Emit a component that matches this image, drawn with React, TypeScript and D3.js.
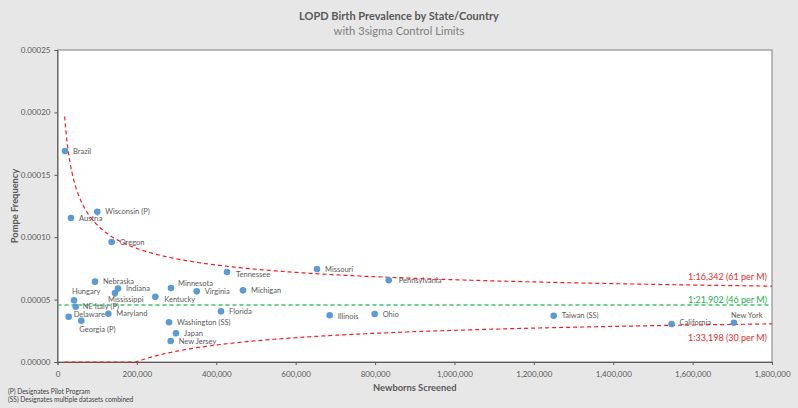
import React, { useRef, useEffect } from "react";
import * as d3 from "d3";

const names = [
  "Brazil", "Austria", "Wisconsin (P)", "Oregon", "Tennessee", "Missouri", "Pennsylvania",
  "Nebraska", "Indiana", "Mississippi", "Minnesota", "Virginia", "Michigan", "Kentucky",
  "Hungary", "NE Italy (P)", "Delaware", "Georgia (P)", "Maryland", "Florida",
  "Washington (SS)", "Japan", "New Jersey", "Illinois", "Ohio", "Taiwan (SS)",
  "California", "New York",
];
const screened = [
  18900, 34000, 100300, 136500, 427000, 653700, 834400,
  94500, 152400, 144800, 285900, 350700, 467300, 246400,
  41600, 45800, 28200, 60000, 128000, 411900,
  280900, 298500, 285100, 685700, 799000, 1250000,
  1547000, 1704000,
];
const frequency = [
  0.000169, 0.0001154, 0.0001204, 0.0000962, 0.0000721, 0.0000745, 0.0000655,
  0.0000644, 0.0000588, 0.0000553, 0.0000593, 0.0000566, 0.0000574, 0.0000523,
  0.0000494, 0.0000443, 0.0000363, 0.0000331, 0.0000387, 0.0000406,
  0.0000318, 0.000023, 0.0000168, 0.0000374, 0.0000385, 0.0000371,
  0.0000305, 0.0000315,
];
const meanRatio = 21902; // 1:21,902
const limitLabels = ["1:16,342 (61 per M)", "1:21,902 (46 per M)", "1:33,198 (30 per M)"];
const xTicks = [0, 200000, 400000, 600000, 800000, 1000000, 1200000, 1400000, 1600000, 1800000];
const yTicks = [0, 0.00005, 0.0001, 0.00015, 0.0002, 0.00025];
const footnotes = ["(P) Designates Pilot Program", "(SS) Designates multiple datasets combined"];

// label nudges (px) where the label is not simply to the right of the dot
const labelOffset: Record<string, [number, number]> = {
  Tennessee: [9, 2],
  Pennsylvania: [10, 0],
  Mississippi: [-7, 6],
  Minnesota: [7, -5],
  Kentucky: [9, 3],
  Hungary: [-2, -9],
  "NE Italy (P)": [7, 0],
  Delaware: [5, -2],
  "Georgia (P)": [-2, 9],
  Illinois: [8, 1],
  California: [8, -2],
  "New York": [-3, -7],
};

const W = 798;
const H = 408;
const FONT = "Lato, 'Open Sans', sans-serif";

const App: React.FC = () => {
  const svgRef = useRef<SVGSVGElement>(null);

  useEffect(() => {
    document.body.style.margin = "0";
    if (!svgRef.current) return;
    const svg = d3.select(svgRef.current);
    svg.selectAll("*").remove();

    const left = 57.5, right = 772, top = 50, bottom = 362;
    const x = d3.scaleLinear().domain([0, 1800000]).range([left, right]);
    const y = d3.scaleLinear().domain([0, 0.00025]).range([bottom, top]);

    svg.append("rect").attr("width", W).attr("height", H).attr("fill", "#e7e7e7");
    svg.append("rect")
      .attr("x", left).attr("y", top)
      .attr("width", right - left).attr("height", bottom - top)
      .attr("fill", "#fff").attr("stroke", "#7f7f7f").attr("stroke-width", 1);

    // title
    svg.append("text")
      .attr("x", 399).attr("y", 19.5).attr("text-anchor", "middle")
      .attr("font-family", FONT).attr("font-weight", "bold").attr("font-size", 11)
      .attr("fill", "#595959").text("LOPD Birth Prevalence by State/Country");
    svg.append("text")
      .attr("x", 399).attr("y", 35).attr("text-anchor", "middle")
      .attr("font-family", FONT).attr("font-size", 11.2)
      .attr("fill", "#7f7f7f").text("with 3sigma Control Limits");

    // axes
    const xAxis = svg.append("g")
      .attr("transform", `translate(0,${bottom})`)
      .call(d3.axisBottom(x).tickValues(xTicks).tickFormat(d3.format(",") as any).tickSize(3).tickPadding(6));
    const yAxis = svg.append("g")
      .attr("transform", `translate(${left},0)`)
      .call(d3.axisLeft(y).tickValues(yTicks).tickFormat(d3.format(".5f") as any).tickSize(3).tickPadding(4));
    [xAxis, yAxis].forEach((g) => {
      g.select(".domain").attr("stroke", "#595959");
      g.selectAll(".tick line").attr("stroke", "#595959");
      g.selectAll(".tick text")
        .attr("font-family", FONT).attr("font-size", 8).attr("fill", "#595959");
    });

    svg.append("text")
      .attr("x", (left + right) / 2).attr("y", 391).attr("text-anchor", "middle")
      .attr("font-family", FONT).attr("font-weight", "bold").attr("font-size", 9.3)
      .attr("fill", "#595959").text("Newborns Screened");
    svg.append("text")
      .attr("transform", `translate(18,${(top + bottom) / 2}) rotate(-90)`)
      .attr("text-anchor", "middle")
      .attr("font-family", FONT).attr("font-weight", "bold").attr("font-size", 9.3)
      .attr("fill", "#595959").text("Pompe Frequency");

    footnotes.forEach((t, i) => {
      svg.append("text")
        .attr("x", 8).attr("y", 393.5 + i * 8.5)
        .attr("font-family", FONT).attr("font-size", 6.6)
        .attr("fill", "#404040").text(t);
    });

    // mean and 3-sigma limits, p +/- 3*sqrt(p(1-p)/n)
    const p = 1 / meanRatio;
    const sigma = (n: number) => Math.sqrt((p * (1 - p)) / n);
    const nSamples = d3.range(18000, 1800001, 2000);
    const line = d3.line<number>().x((n) => x(n));

    const plot = svg.append("g");
    plot.append("path")
      .attr("d", line.y((n) => y(p + 3 * sigma(n)))(nSamples))
      .attr("fill", "none").attr("stroke", "#ff1a1a").attr("stroke-width", 1.2)
      .attr("stroke-dasharray", "4,3");
    plot.append("path")
      .attr("d", line.y((n) => y(Math.max(0, p - 3 * sigma(n))))(nSamples))
      .attr("fill", "none").attr("stroke", "#ff1a1a").attr("stroke-width", 1.2)
      .attr("stroke-dasharray", "4,3");
    plot.append("line")
      .attr("x1", left).attr("x2", right).attr("y1", y(p)).attr("y2", y(p))
      .attr("stroke", "#3cc46a").attr("stroke-width", 1.6).attr("stroke-dasharray", "4,3");

    const limitY = [277, 300, 338];
    const limitColor = ["#ee2a2a", "#22b04c", "#ee2a2a"];
    limitLabels.forEach((t, i) => {
      plot.append("text")
        .attr("x", 767).attr("y", limitY[i]).attr("dy", "0.35em").attr("text-anchor", "end")
        .attr("font-family", FONT).attr("font-size", 9)
        .attr("fill", limitColor[i]).text(t);
    });

    const data = names.map((name, i) => ({ name, n: screened[i], f: frequency[i] }));
    const pts = plot.append("g").selectAll("g").data(data).join("g")
      .attr("transform", (d) => `translate(${x(d.n)},${y(d.f)})`);
    pts.append("circle").attr("r", 3.3).attr("fill", "#5b9bd5");
    pts.append("text")
      .attr("x", (d) => (labelOffset[d.name] || [8, 0])[0])
      .attr("y", (d) => (labelOffset[d.name] || [8, 0])[1])
      .attr("dy", "0.35em")
      .attr("font-family", FONT).attr("font-size", 7.5)
      .attr("fill", "#595959")
      .text((d) => d.name);

    return () => {
      svg.selectAll("*").remove();
    };
  }, []);

  return <svg ref={svgRef} width={W} height={H} style={{ display: "block" }}></svg>;
};

export default App;
